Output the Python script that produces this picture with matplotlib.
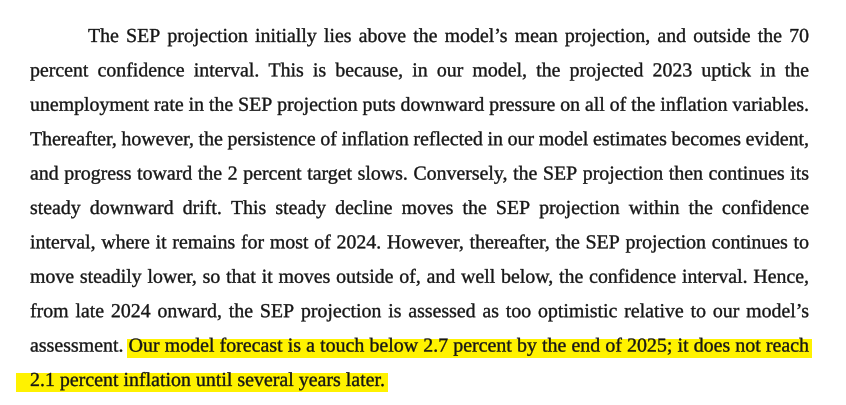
import matplotlib.pyplot as plt
from matplotlib.patches import Rectangle, PathPatch
from matplotlib.textpath import TextPath, TextToPath
from matplotlib.font_manager import FontProperties
from matplotlib.transforms import Affine2D

# paragraph text, one entry per printed line
lines = [
    "The SEP projection initially lies above the model’s mean projection, and outside the 70",
    "percent confidence interval. This is because, in our model, the projected 2023 uptick in the",
    "unemployment rate in the SEP projection puts downward pressure on all of the inflation variables.",
    "Thereafter, however, the persistence of inflation reflected in our model estimates becomes evident,",
    "and progress toward the 2 percent target slows. Conversely, the SEP projection then continues its",
    "steady downward drift. This steady decline moves the SEP projection within the confidence",
    "interval, where it remains for most of 2024. However, thereafter, the SEP projection continues to",
    "move steadily lower, so that it moves outside of, and well below, the confidence interval. Hence,",
    "from late 2024 onward, the SEP projection is assessed as too optimistic relative to our model’s",
    "assessment. Our model forecast is a touch below 2.7 percent by the end of 2025; it does not reach",
    "2.1 percent inflation until several years later.",
]
# index of first highlighted word on each line (None = no highlight)
highlight_from = [None] * 9 + [1, 0]
justified = [True] * 10 + [False]
narrow = [False] * 9 + [True, True]   # last two lines are set in a squeezed face

FONT = "Liberation Serif"
LEFT, RIGHT, INDENT = 30, 809, 88
TOP, STEP = 42, 34.4
LAST_END = 385
TEXT_COLOR = "#161616"
HL_COLOR = "#fff200"

t2p = TextToPath()


def adv(s, size):
    w, _, _ = t2p.get_text_width_height_descent(s, FontProperties(family=FONT, size=size), ismath=False)
    return w


# pick the em size so that line 3 (plain spacing) fills the measure
EM = 10 * (RIGHT - LEFT) / adv(lines[2], 10)
# horizontal squeeze of the last lines
SQUEEZE = (LAST_END - LEFT) / adv(lines[10], EM)

fig = plt.figure(figsize=(8.46, 4.05), dpi=100)
ax = fig.add_axes([0, 0, 1, 1])
ax.set_xlim(0, 846)
ax.set_ylim(405, 0)
ax.axis("off")
fp = FontProperties(family=FONT)

for i, line in enumerate(lines):
    words = line.split(" ")
    sx = SQUEEZE if narrow[i] else 1.0
    x0 = INDENT if i == 0 else LEFT
    y = TOP + STEP * i
    widths = [adv(w, EM) * sx for w in words]
    space = (adv("a a", EM) - adv("aa", EM)) * sx
    if justified[i]:
        space = (RIGHT - x0 - sum(widths)) / (len(words) - 1)
    xs = []
    x = x0
    for w in widths:
        xs.append(x)
        x += w + space
    h = highlight_from[i]
    if h is not None:
        hx0 = xs[h] - 2 if h > 0 else 16
        hx1 = xs[-1] + widths[-1] + 3
        ax.add_patch(Rectangle((hx0, y - 13), hx1 - hx0, 19, color=HL_COLOR, zorder=1, lw=0))
    for w, x in zip(words, xs):
        path = TextPath((0, 0), w, size=EM, prop=fp)
        path = Affine2D().scale(sx, -1).translate(x, y).transform_path(path)
        ax.add_patch(PathPatch(path, facecolor=TEXT_COLOR, edgecolor=TEXT_COLOR,
                               lw=0.25, zorder=2))

fig.savefig("out.png", dpi=100)
